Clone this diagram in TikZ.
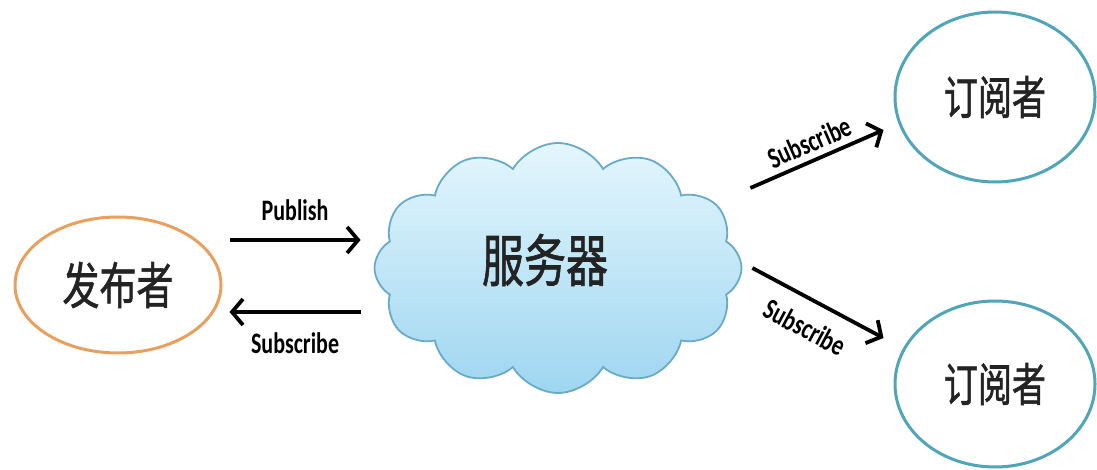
\documentclass[tikz,border=0pt]{standalone}
\usepackage{fontspec}
\setmainfont{Carlito}
\newfontfamily\cjk[FakeBold=1.3]{Noto Sans CJK SC}
\usetikzlibrary{shapes.geometric,shapes.symbols,arrows.meta}
\definecolor{pubcol}{RGB}{232,160,95}
\definecolor{subcol}{RGB}{80,165,185}
\definecolor{cloudline}{RGB}{105,170,200}
\definecolor{cloudtop}{RGB}{228,246,253}
\definecolor{cloudbot}{RGB}{158,214,240}
\definecolor{textcol}{RGB}{35,35,35}
\begin{document}
\begin{tikzpicture}[x=1pt,y=-1pt,
  actor/.style={ellipse, draw, line width=3pt, inner sep=0pt, text=textcol},
  arr/.style={line width=3.8pt, -{Straight Barb[length=11pt,width=26pt]}},
  lbl/.style={font=\fontsize{22}{22}\selectfont\bfseries, text=black, inner sep=1pt}]
\useasboundingbox (0,0) rectangle (1097,470);
\fill[white] (0,0) rectangle (1097,470);
\node[actor, draw=pubcol, minimum width=206pt, minimum height=136pt] (pub) at (118,285)
  {\cjk\fontsize{37}{37}\selectfont\scalebox{1}[1.35]{发布者}};
\node[cloud, cloud puffs=12, cloud puff arc=120, draw=cloudline, line width=1.8pt,
  top color=cloudtop, bottom color=cloudbot, minimum width=367pt, minimum height=250pt,
  inner sep=0pt,
  label={[text=textcol, shift={(-13pt,8pt)}]center:{\cjk\fontsize{42}{42}\selectfont\scalebox{1}[1.35]{服务器}}}] (srv) at (558,268) {};
\node[actor, draw=subcol, minimum width=200pt, minimum height=170pt] (sub1) at (995,97)
  {\cjk\fontsize{34}{34}\selectfont\scalebox{1}[1.35]{订阅者}};
\node[actor, draw=subcol, minimum width=200pt, minimum height=166pt] (sub2) at (995,384)
  {\cjk\fontsize{34}{34}\selectfont\scalebox{1}[1.35]{订阅者}};
\draw[arr] ([shift={(7pt,45pt)}]pub.east) -- node[lbl, above=16pt] {\scalebox{1}[1.35]{Publish}} ([shift={(-13pt,28pt)}]srv.west);
\draw[arr] ([shift={(-13pt,-44pt)}]srv.west) -- node[lbl, below=18pt] {\scalebox{1}[1.35]{Subscribe}} ([shift={(7pt,-27pt)}]pub.east);
\draw[arr] ([shift={(8pt,80pt)}]srv.east) -- node[lbl, above=5pt, sloped] {\scalebox{1}[1.35]{Subscribe}} ([shift={(-10pt,-33pt)}]sub1.west);
\draw[arr] ([shift={(10pt,0pt)}]srv.east) -- node[lbl, below=14pt, sloped] {\scalebox{1}[1.35]{Subscribe}} ([shift={(-10pt,46pt)}]sub2.west);
\end{tikzpicture}
\end{document}
